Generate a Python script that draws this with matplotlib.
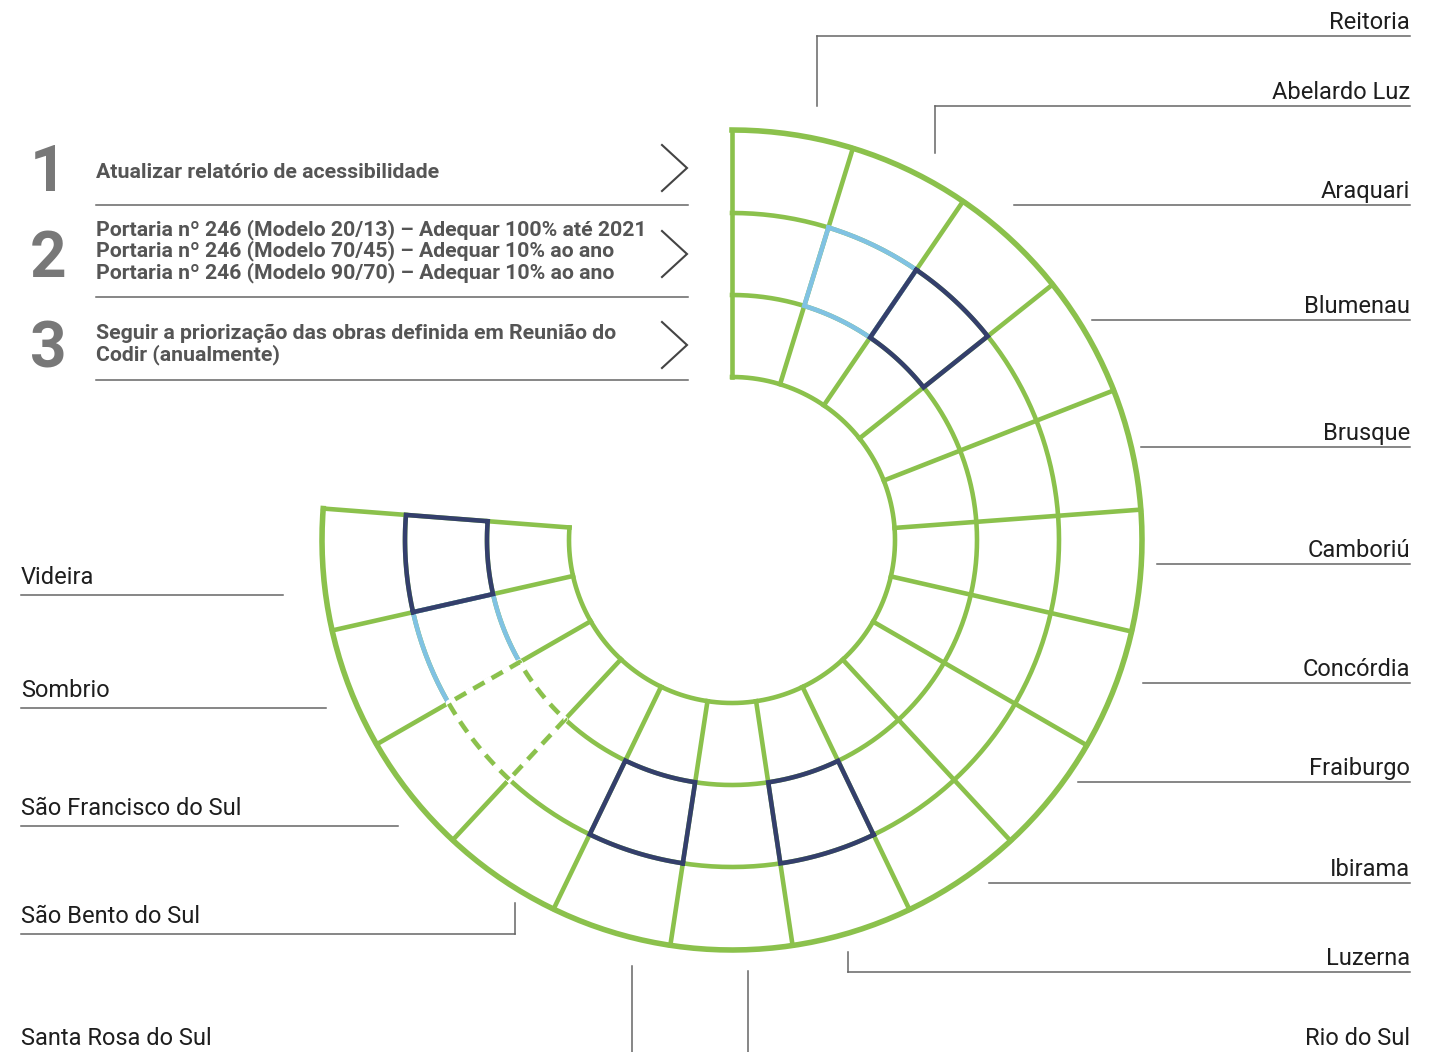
import numpy as np
import matplotlib.pyplot as plt

# campuses, clockwise from the top of the spiral
campuses = ["Reitoria", "Abelardo Luz", "Araquari", "Blumenau", "Brusque",
            "Camboriú", "Concórdia", "Fraiburgo", "Ibirama", "Luzerna",
            "Rio do Sul", "Santa Rosa do Sul", "São Bento do Sul",
            "São Francisco do Sul", "Sombrio", "Videira"]

# items (ring 1 = outer, ring 3 = inner)
item_numbers = ["1", "2", "3"]
item_texts = [
    ["Atualizar relatório de acessibilidade"],
    ["Portaria nº 246 (Modelo 20/13) – Adequar 100% até 2021",
     "Portaria nº 246 (Modelo 70/45) – Adequar 10% ao ano",
     "Portaria nº 246 (Modelo 90/70) – Adequar 10% ao ano"],
    ["Seguir a priorização das obras definida em Reunião do",
     "Codir (anualmente)"],
]

# highlighted cells: (campus, item)
navy_cells = [("Araquari", 2), ("Luzerna", 2), ("Santa Rosa do Sul", 2), ("Videira", 2)]
light_cells = [("Abelardo Luz", 2), ("Sombrio", 2)]
dashed_cells = [("São Francisco do Sul", 2)]

GREEN = "#8bc14c"
NAVY = "#343f6c"
LIGHT = "#80c2e3"
GREY = "#666666"

plt.rcParams['font.family'] = ['Roboto', 'DejaVu Sans']

fig = plt.figure(figsize=(14.38, 10.52), dpi=100)
ax = fig.add_axes([0, 0, 1, 1])
ax.set_xlim(0, 1438)
ax.set_ylim(1052, 0)
ax.axis('off')

cx, cy = 732, 540
radii = [163, 245, 327, 410]   # inner -> outer
start, step = 90.0, 17.15


def pt(r, a):
    a = np.radians(a)
    return cx + r * np.cos(a), cy - r * np.sin(a)


def arc(r, a0, a1, n=60):
    a = np.radians(np.linspace(a0, a1, n))
    return cx + r * np.cos(a), cy - r * np.sin(a)


def cell_path(campus, item):
    k = campuses.index(campus)
    ring = len(item_numbers) - item   # 0 = inner ring
    r0, r1 = radii[ring], radii[ring + 1]
    a0, a1 = start - k * step, start - (k + 1) * step
    xo, yo = arc(r1, a0, a1)
    xi, yi = arc(r0, a1, a0)
    xs = np.concatenate([xo, xi, xo[:1]])
    ys = np.concatenate([yo, yi, yo[:1]])
    return xs, ys


n = len(campuses)
end = start - n * step

# grid
for i, r in enumerate(radii):
    x, y = arc(r, start, end, 300)
    ax.plot(x, y, color=GREEN, lw=4.0 if i == len(radii) - 1 else 3.3,
            solid_capstyle='projecting')
for k in range(n + 1):
    a = start - k * step
    x0, y0 = pt(radii[0], a)
    x1, y1 = pt(radii[-1], a)
    ax.plot([x0, x1], [y0, y1], color=GREEN, lw=3.3, solid_capstyle='projecting')

for c, it in light_cells:
    x, y = cell_path(c, it)
    ax.plot(x, y, color=LIGHT, lw=3.3, solid_joinstyle='miter')
for c, it in dashed_cells:
    x, y = cell_path(c, it)
    ax.plot(x, y, color='white', lw=4.2)
    ax.plot(x, y, color=GREEN, lw=3.3, dashes=(2.8, 1.8), dash_capstyle='butt')
for c, it in navy_cells:
    x, y = cell_path(c, it)
    ax.plot(x, y, color=NAVY, lw=3.3, solid_joinstyle='miter')

# campus labels: (line y, line x start, vertical end y)
right_layout = {
    "Reitoria": (36, 817, 106), "Abelardo Luz": (106, 935, 153),
    "Araquari": (205, 1014, None), "Blumenau": (320, 1092, None),
    "Brusque": (447, 1141, None), "Camboriú": (564, 1157, None),
    "Concórdia": (683, 1143, None), "Fraiburgo": (782, 1078, None),
    "Ibirama": (883, 989, None), "Luzerna": (972, 848, 952),
}
left_layout = {
    "Videira": (595, 283, None), "Sombrio": (708, 326, None),
    "São Francisco do Sul": (826, 398, None), "São Bento do Sul": (934, 515, 903),
}
for name, (ly, lx, vy) in right_layout.items():
    ax.plot([lx, 1410], [ly, ly], color=GREY, lw=1.1)
    if vy is not None:
        ax.plot([lx, lx], [ly, vy], color=GREY, lw=1.1)
    ax.text(1410, ly - 7, name, ha='right', va='baseline', fontsize=17, color='#1e1e1e')
for name, (ly, lx, vy) in left_layout.items():
    ax.plot([21, lx], [ly, ly], color=GREY, lw=1.1)
    if vy is not None:
        ax.plot([lx, lx], [ly, vy], color=GREY, lw=1.1)
    ax.text(21, ly - 11, name, ha='left', va='baseline', fontsize=17, color='#1e1e1e')

# bottom labels with vertical leaders
ax.plot([748, 748], [971, 1052], color=GREY, lw=1.1)
ax.text(1410, 1045, "Rio do Sul", ha='right', va='baseline', fontsize=17, color='#1e1e1e')
ax.plot([632, 632], [966, 1052], color=GREY, lw=1.1)
ax.text(21, 1045, "Santa Rosa do Sul", ha='left', va='baseline', fontsize=17, color='#1e1e1e')

# items on the left
num_centers = [168, 254, 345]
text_centers = [170, 249, 342.5]
sep_y = [205, 297, 380]
for num, lines, yc, tc, sy in zip(item_numbers, item_texts, num_centers, text_centers, sep_y):
    ax.text(30, yc + 23, num, ha='left', va='baseline', fontsize=46,
            fontweight='bold', color='#787878')
    lh = 21.5
    y0 = tc - lh * (len(lines) - 1) / 2
    for j, line in enumerate(lines):
        ax.text(96, y0 + j * lh + 7.5, line, ha='left', va='baseline', fontsize=15.3,
                fontweight='bold', color='#555555')
    ax.plot([96, 688], [sy, sy], color=GREY, lw=1.1)
    ax.plot([662, 687, 662], [yc - 23, yc, yc + 23], color='#444444', lw=1.5,
            solid_joinstyle='miter')

fig.savefig("out.png", dpi=100)
